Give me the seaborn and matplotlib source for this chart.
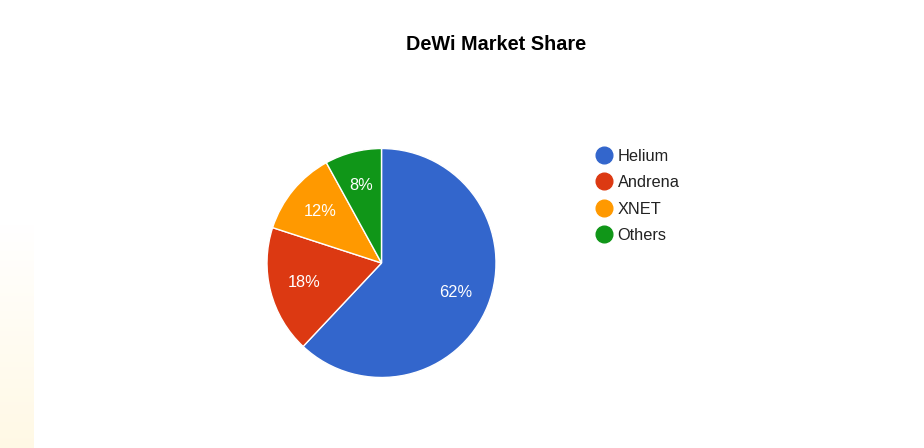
import numpy as np
import matplotlib.pyplot as plt
import seaborn as sns
from matplotlib.lines import Line2D

# chart data
labels = ['Helium', 'Andrena', 'XNET', 'Others']
shares = [62, 18, 12, 8]
colors = ['#3366cc', '#dc3912', '#ff9900', '#109618']
title = 'DeWi Market Share'

sns.set_theme(style="white")
plt.rcParams['font.family'] = ['Liberation Sans', 'DejaVu Sans']

W, H = 924, 448
fig = plt.figure(figsize=(W / 100, H / 100), dpi=100)
fig.patch.set_facecolor('white')

# faint warm gradient strip at the bottom-left edge
bg = fig.add_axes([0, 0, 34 / W, (H - 225) / H])
grad = np.linspace(0, 1, 200).reshape(-1, 1)
rgba = np.zeros((200, 1, 4))
rgba[..., 0] = 1.0
rgba[..., 1] = 0.975
rgba[..., 2] = 0.89
rgba[..., 3] = grad * 0.9
bg.imshow(rgba, aspect='auto', extent=(0, 1, 0, 1))
bg.axis('off')

# pie
cx, cy, r = 381.5, 263, 114.5
ax = fig.add_axes([(cx - r) / W, (H - cy - r) / H, 2 * r / W, 2 * r / H])
wedges, texts, autotexts = ax.pie(
    shares, colors=colors, startangle=90, counterclock=False,
    autopct='%1.0f%%', pctdistance=0.7,
    wedgeprops=dict(edgecolor='white', linewidth=1),
    textprops=dict(color='white', fontsize=11.8),
)
ax.set_xlim(-1, 1)
ax.set_ylim(-1, 1)
ax.set_aspect('equal')
ax.axis('off')

fig.text(496 / W, 1 - 45 / H, title, ha='center', va='center',
         fontsize=14.3, fontweight='bold', color='black')

handles = [Line2D([0], [0], marker='o', linestyle='', markersize=12,
                  markerfacecolor=c, markeredgecolor=c) for c in colors]
fig.legend(handles, labels, loc='upper left',
           bbox_to_anchor=(588 / W, 1 - 140.5 / H), frameon=False,
           fontsize=11.8, labelspacing=0.7, handlelength=1.0,
           handletextpad=0.3, borderpad=0, labelcolor='#222222')

fig.savefig('out.png', dpi=100)
